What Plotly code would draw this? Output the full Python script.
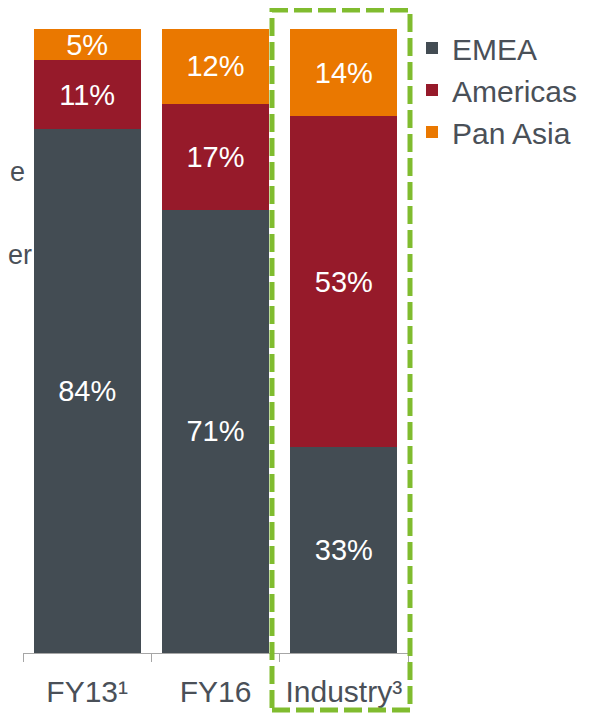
import plotly.graph_objects as go

categories = ["FY13¹", "FY16", "Industry³"]
emea = [84, 71, 33]
americas = [11, 17, 53]
pan_asia = [5, 12, 14]

FONT = "Liberation Sans, Arial, sans-serif"
TXT = "#4a5058"
colors = {"EMEA": "#434c53", "Americas": "#961a2a", "Pan Asia": "#ea7800"}

fig = go.Figure()
for name, vals in [("EMEA", emea), ("Americas", americas), ("Pan Asia", pan_asia)]:
    fig.add_trace(go.Bar(
        x=categories, y=vals, name=name, legendgroup=name,
        marker=dict(color=colors[name], line=dict(width=0)),
        text=[f"{v}%" for v in vals], texttemplate="%{text}",
        textposition="inside", insidetextanchor="middle",
        constraintext="none",
        textfont=dict(color="white", size=29, family=FONT),
        hoverinfo="skip",
    ))

OFF = 8  # page body margin
W, H = 608 - OFF, 713 - OFF
PL, PR, PT, PB = 23, 408, 29, 653  # plot area in page pixels
L, R = PL - OFF, W - (PR - OFF)
T, B = PT - OFF, H - (PB - OFF)
pw = W - L - R
ph = H - T - B

def px_x(p):
    return (p - OFF - L) / pw

def px_y(p):
    return (H - B - (p - OFF)) / ph

fig.update_layout(
    width=W, height=H,
    margin=dict(l=L, r=R, t=T, b=B, pad=0, autoexpand=False),
    barmode="stack", bargap=0.166,
    plot_bgcolor="white", paper_bgcolor="white",
    font=dict(family=FONT, color=TXT, size=30),
    showlegend=True,
    legend=dict(
        x=px_x(412), y=px_y(22), xanchor="left", yanchor="top",
        traceorder="normal", tracegroupgap=4,
        font=dict(size=30, color=TXT, family=FONT),
        bgcolor="rgba(0,0,0,0)", borderwidth=0,
    ),
    xaxis=dict(
        range=[-0.5, 2.5], showline=True, linecolor="#a6a6a6", linewidth=1,
        ticks="outside", tickson="boundaries", ticklen=8, tickcolor="#a6a6a6",
        ticklabelstandoff=12, automargin=False,
        tickfont=dict(size=30, color=TXT, family=FONT),
        showgrid=False, zeroline=False, fixedrange=True,
    ),
    yaxis=dict(range=[0, 100], visible=False, showgrid=False, zeroline=False,
               automargin=False),
)

# Green dashed highlight box around Industry
fig.add_shape(
    type="rect", xref="paper", yref="paper",
    x0=px_x(272), x1=px_x(410), y0=px_y(710), y1=px_y(10),
    line=dict(color="#80bc2f", width=5, dash="18px,6px"),
    fillcolor="rgba(0,0,0,0)", layer="above",
)

# Text fragments at the far left
for t, xpx, ypx in [("e", 27, 172), ("er", 34, 255)]:
    fig.add_annotation(
        text=t, xref="paper", yref="paper", x=px_x(xpx), y=px_y(ypx),
        xanchor="right", yanchor="middle", showarrow=False,
        font=dict(size=27, color=TXT, family=FONT),
    )

fig.write_html("out.html", config={"displayModeBar": False})
